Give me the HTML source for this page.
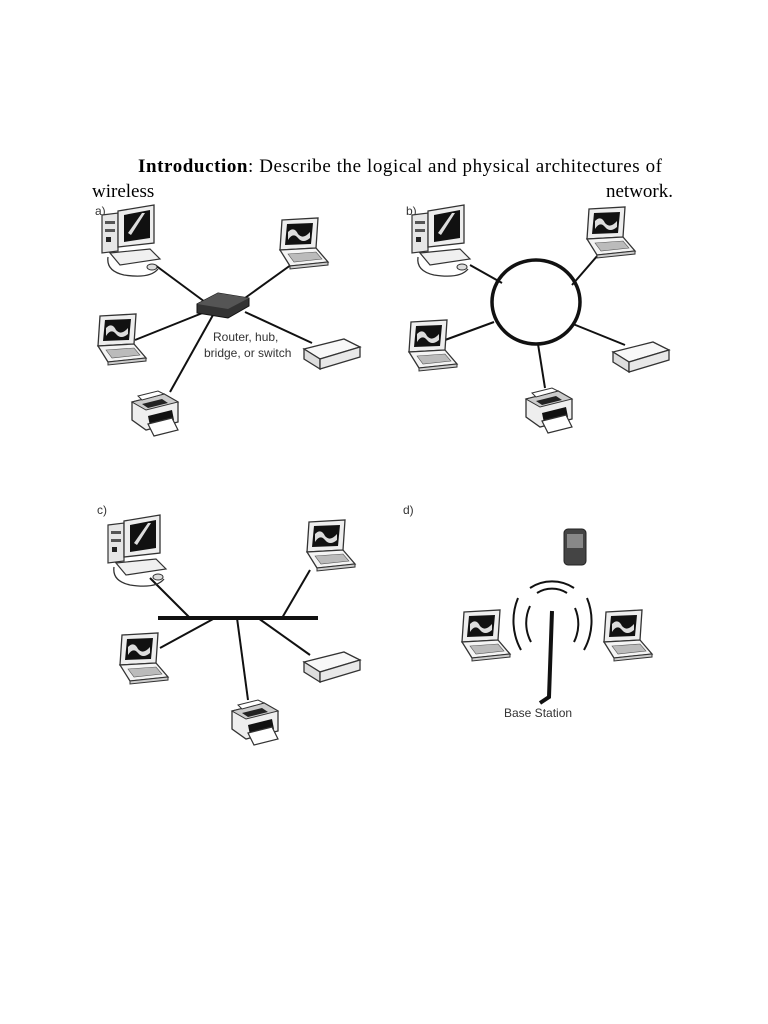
<!DOCTYPE html>
<html><head><meta charset="utf-8"><style>
html,body{margin:0;padding:0;background:#fff;}
svg{display:block;}
</style></head><body>
<svg width="768" height="1024" viewBox="0 0 768 1024" xmlns="http://www.w3.org/2000/svg">
<defs>
<g id="laptop">
  <polygon points="6,2 42,0 40,30 4,32" fill="#eee" stroke="#333" stroke-width="1.3"/>
  <polygon points="11,6 37,5 35,26 9,27" fill="#111"/>
  <path d="M12,14 q6,-6 10,2 q5,6 12,-2 l0,6 q-7,6 -12,0 q-5,-6 -10,2z" fill="#ddd"/>
  <polygon points="4,32 40,30 52,44 14,48" fill="#f4f4f4" stroke="#333" stroke-width="1.3"/>
  <polygon points="12,36 40,34 46,41 18,44" fill="#bbb" stroke="#555" stroke-width="0.6"/>
  <polygon points="14,48 52,44 52,47 14,51" fill="#ccc" stroke="#333" stroke-width="1"/>
</g>
<g id="desktop">
  <polygon points="2,10 18,8 18,46 2,48" fill="#e6e6e6" stroke="#333" stroke-width="1.2"/>
  <rect x="5" y="16" width="10" height="3" fill="#555"/>
  <rect x="5" y="24" width="10" height="3" fill="#555"/>
  <rect x="6" y="32" width="5" height="5" fill="#222"/>
  <polygon points="18,6 54,0 54,38 18,42" fill="#eee" stroke="#333" stroke-width="1.3"/>
  <polygon points="24,10 50,5 50,33 24,37" fill="#111"/>
  <path d="M28,28 l14,-20 l3,0 l-14,22z" fill="#ddd"/>
  <polygon points="10,48 50,44 60,54 20,60" fill="#f0f0f0" stroke="#333" stroke-width="1.2"/>
  <path d="M8,52 q-2,14 16,18 q26,4 34,-6" fill="none" stroke="#333" stroke-width="1.3"/>
  <ellipse cx="52" cy="62" rx="5" ry="3" fill="#ddd" stroke="#333"/>
</g>
<g id="printer">
  <polygon points="4,14 36,6 50,14 50,34 18,42 4,32" fill="#eee" stroke="#333" stroke-width="1.3"/>
  <polygon points="4,14 36,6 50,14 18,22" fill="#ccc" stroke="#333" stroke-width="1"/>
  <polygon points="14,16 34,11 40,15 20,20" fill="#222"/>
  <polygon points="20,28 44,22 46,32 22,38" fill="#111"/>
  <polygon points="20,36 44,30 50,42 26,48" fill="#fff" stroke="#333" stroke-width="1.2"/>
  <polygon points="10,8 30,3 36,6 14,12" fill="#fff" stroke="#333" stroke-width="1"/>
</g>
<g id="box">
  <polygon points="2,12 42,2 58,10 18,22" fill="#f8f8f8" stroke="#333" stroke-width="1.3"/>
  <polygon points="2,12 18,22 18,32 2,22" fill="#ddd" stroke="#333" stroke-width="1.3"/>
  <polygon points="18,22 58,10 58,20 18,32" fill="#e8e8e8" stroke="#333" stroke-width="1.3"/>
</g>
</defs>

<g font-family="Liberation Serif, serif" font-size="19" fill="#000">
  <text x="138" y="172" textLength="524" lengthAdjust="spacing"><tspan font-weight="bold">Introduction</tspan>: Describe the logical and physical architectures of</text>
  <text x="92" y="197">wireless</text>
  <text x="673" y="197" text-anchor="end">network.</text>
</g>

<g font-family="Liberation Sans, sans-serif" font-size="12" fill="#333">
  <text x="95" y="215">a)</text>
  <text x="406" y="215">b)</text>
  <text x="97" y="514">c)</text>
  <text x="403" y="514">d)</text>
</g>

<!-- panel a -->
<g stroke="#111" stroke-width="2" fill="none">
  <line x1="155" y1="265" x2="205" y2="302"/>
  <line x1="295" y1="262" x2="245" y2="298"/>
  <line x1="135" y1="340" x2="205" y2="312"/>
  <line x1="170" y1="392" x2="213" y2="315"/>
  <line x1="312" y1="343" x2="245" y2="312"/>
</g>
<polygon points="197,304 218,293 249,298 249,306 228,318 197,313" fill="#333" stroke="#111"/>
<polygon points="197,304 218,293 249,298 228,309" fill="#555"/>
<use href="#desktop" x="100" y="205"/>
<use href="#laptop" x="276" y="218"/>
<use href="#laptop" x="94" y="314"/>
<use href="#printer" x="128" y="388"/>
<use href="#box" x="302" y="337"/>
<g font-family="Liberation Sans, sans-serif" font-size="12" fill="#333">
  <text x="213" y="341">Router, hub,</text>
  <text x="204" y="357">bridge, or switch</text>
</g>

<!-- panel b -->
<g stroke="#111" stroke-width="2" fill="none">
  <line x1="470" y1="265" x2="502" y2="283"/>
  <line x1="598" y1="255" x2="572" y2="285"/>
  <line x1="445" y1="340" x2="494" y2="322"/>
  <line x1="545" y1="388" x2="538" y2="344"/>
  <line x1="625" y1="345" x2="573" y2="324"/>
  <ellipse cx="536" cy="302" rx="44" ry="42" stroke-width="3.5"/>
</g>
<use href="#desktop" x="410" y="205"/>
<use href="#laptop" x="583" y="207"/>
<use href="#laptop" x="405" y="320"/>
<use href="#printer" x="522" y="385"/>
<use href="#box" x="611" y="340"/>

<!-- panel c -->
<g stroke="#111" stroke-width="2" fill="none">
  <line x1="150" y1="578" x2="190" y2="618"/>
  <line x1="310" y1="570" x2="282" y2="618"/>
  <line x1="160" y1="648" x2="215" y2="618"/>
  <line x1="248" y1="700" x2="237" y2="618"/>
  <line x1="310" y1="655" x2="258" y2="618"/>
  <line x1="158" y1="618" x2="318" y2="618" stroke-width="4"/>
</g>
<use href="#desktop" x="106" y="515"/>
<use href="#laptop" x="303" y="520"/>
<use href="#laptop" x="116" y="633"/>
<use href="#printer" x="228" y="697"/>
<use href="#box" x="302" y="650"/>

<!-- panel d -->
<rect x="564" y="529" width="22" height="36" rx="4" fill="#444" stroke="#222"/>
<rect x="567" y="534" width="16" height="14" fill="#888"/>
<use href="#laptop" x="458" y="610"/>
<use href="#laptop" x="600" y="610"/>
<g stroke="#111" stroke-width="2" fill="none">
  <path d="M530,588 A40,40 0 0 1 574,588"/>
  <path d="M537,593 A28,28 0 0 1 567,593"/>
  <path d="M518,598 A60,60 0 0 0 521,650"/>
  <path d="M530,606 A40,40 0 0 0 531,642"/>
  <path d="M587,598 A60,60 0 0 1 584,650"/>
  <path d="M575,608 A40,40 0 0 1 574,642"/>
</g>
<path d="M552,611 L549,697 L540,703" stroke="#111" stroke-width="4" fill="none"/>
<text x="504" y="717" font-family="Liberation Sans, sans-serif" font-size="12" fill="#333">Base Station</text>
</svg>
</body></html>
